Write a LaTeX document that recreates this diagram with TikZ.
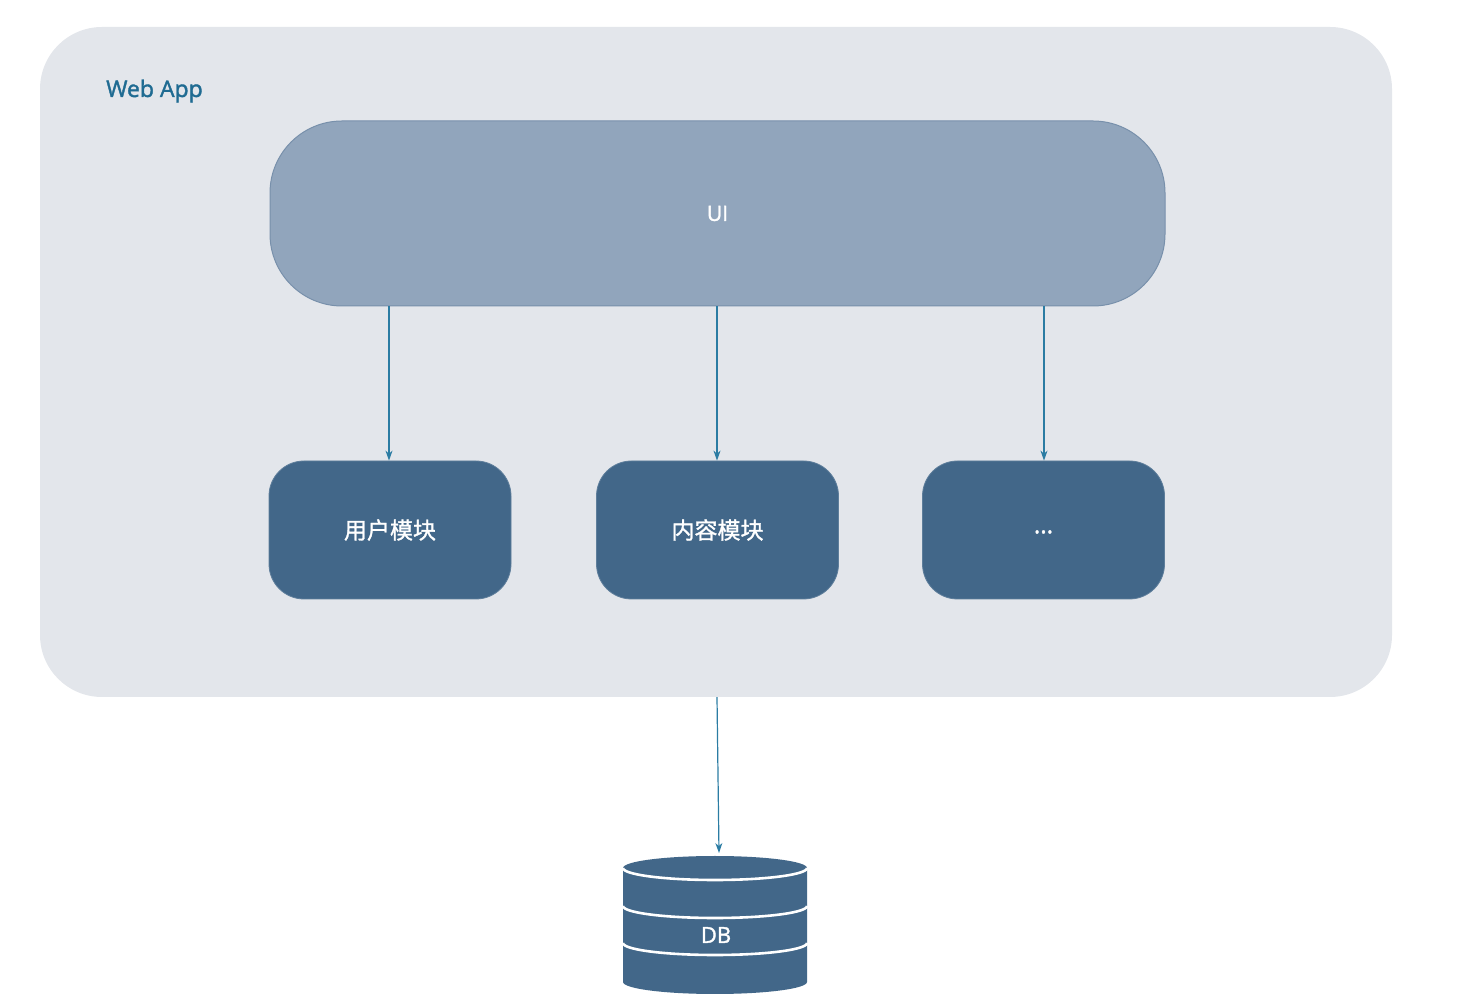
\documentclass[tikz,border=0pt]{standalone}
\usepackage{fontspec}
\setmainfont{Open Sans}
\newfontfamily\semib[FakeBold=1.6]{Open Sans}
\newfontfamily\cjk[FakeBold=1.3]{Noto Sans CJK SC}
\usetikzlibrary{arrows.meta}
\definecolor{outerbg}{HTML}{E3E6EB}
\definecolor{uifill}{HTML}{91A5BC}
\definecolor{uidraw}{HTML}{7890AB}
\definecolor{modfill}{HTML}{426789}
\definecolor{arrowc}{HTML}{2B7CA3}
\definecolor{titlec}{HTML}{1F6B92}
\tikzset{
  modbox/.style={fill=modfill, draw=modfill!85!white, line width=0.8pt, rounded corners=35pt,
    minimum width=242pt, minimum height=138pt, inner sep=0pt, text=white,
    font=\cjk\fontsize{23}{27}\selectfont},
  conn/.style={draw=arrowc, line width=1.2pt, -{Stealth[length=10pt,width=7pt]}},
}
\begin{document}
\begin{tikzpicture}[x=1pt,y=1pt]
\useasboundingbox (0,0) rectangle (1462,1004);
% outer container
\node[fill=outerbg, rounded corners=62pt, minimum width=1352pt, minimum height=670pt, inner sep=0pt]
  (app) at (716,642) {};
\node[anchor=base west, text=titlec, font=\semib\fontsize{23}{28}\selectfont, inner sep=0pt]
  (title) at (106,907) {Web App};
% UI
\node[fill=uifill, draw=uidraw, line width=1pt, rounded corners=72pt, minimum width=895pt,
  minimum height=185pt, inner sep=0pt, text=white, font=\semib\fontsize{21}{25}\selectfont]
  (ui) at (717.5,790.5) {UI};
% modules
\node[modbox] (m1) at (390,474) {用户模块};
\node[modbox] (m2) at (717.5,474) {内容模块};
\node[modbox, font=\semib\fontsize{24}{28}\selectfont, text height=0.65em, text depth=0pt] (m3) at (1043.5,474) {...};
% arrows
\draw[conn] (ui.south -| 389,0) -- (m1.north -| 389,0);
\draw[conn] (ui.south -| 717,0) -- (m2.north -| 717,0);
\draw[conn] (ui.south -| 1044,0) -- (m3.north -| 1044,0);
% DB cylinder
\fill[modfill] (623,136) -- (623,22) arc[start angle=180, end angle=360, x radius=92, y radius=12]
  -- (807,136) arc[start angle=0, end angle=180, x radius=92, y radius=12] -- cycle;
\draw[white, line width=2.6pt] (623,136) arc[start angle=180, end angle=360, x radius=92, y radius=12];
\draw[white, line width=2.6pt] (623,98) arc[start angle=180, end angle=360, x radius=92, y radius=12];
\draw[white, line width=2.6pt] (623,61) arc[start angle=180, end angle=360, x radius=92, y radius=12];
\node[text=white, font=\semib\fontsize{22}{26}\selectfont, inner sep=0pt] (db) at (716,69) {DB};
\coordinate (dbtop) at (719,151);
\draw[conn] (app.south -| 717,0) -- (dbtop);
\end{tikzpicture}
\end{document}
